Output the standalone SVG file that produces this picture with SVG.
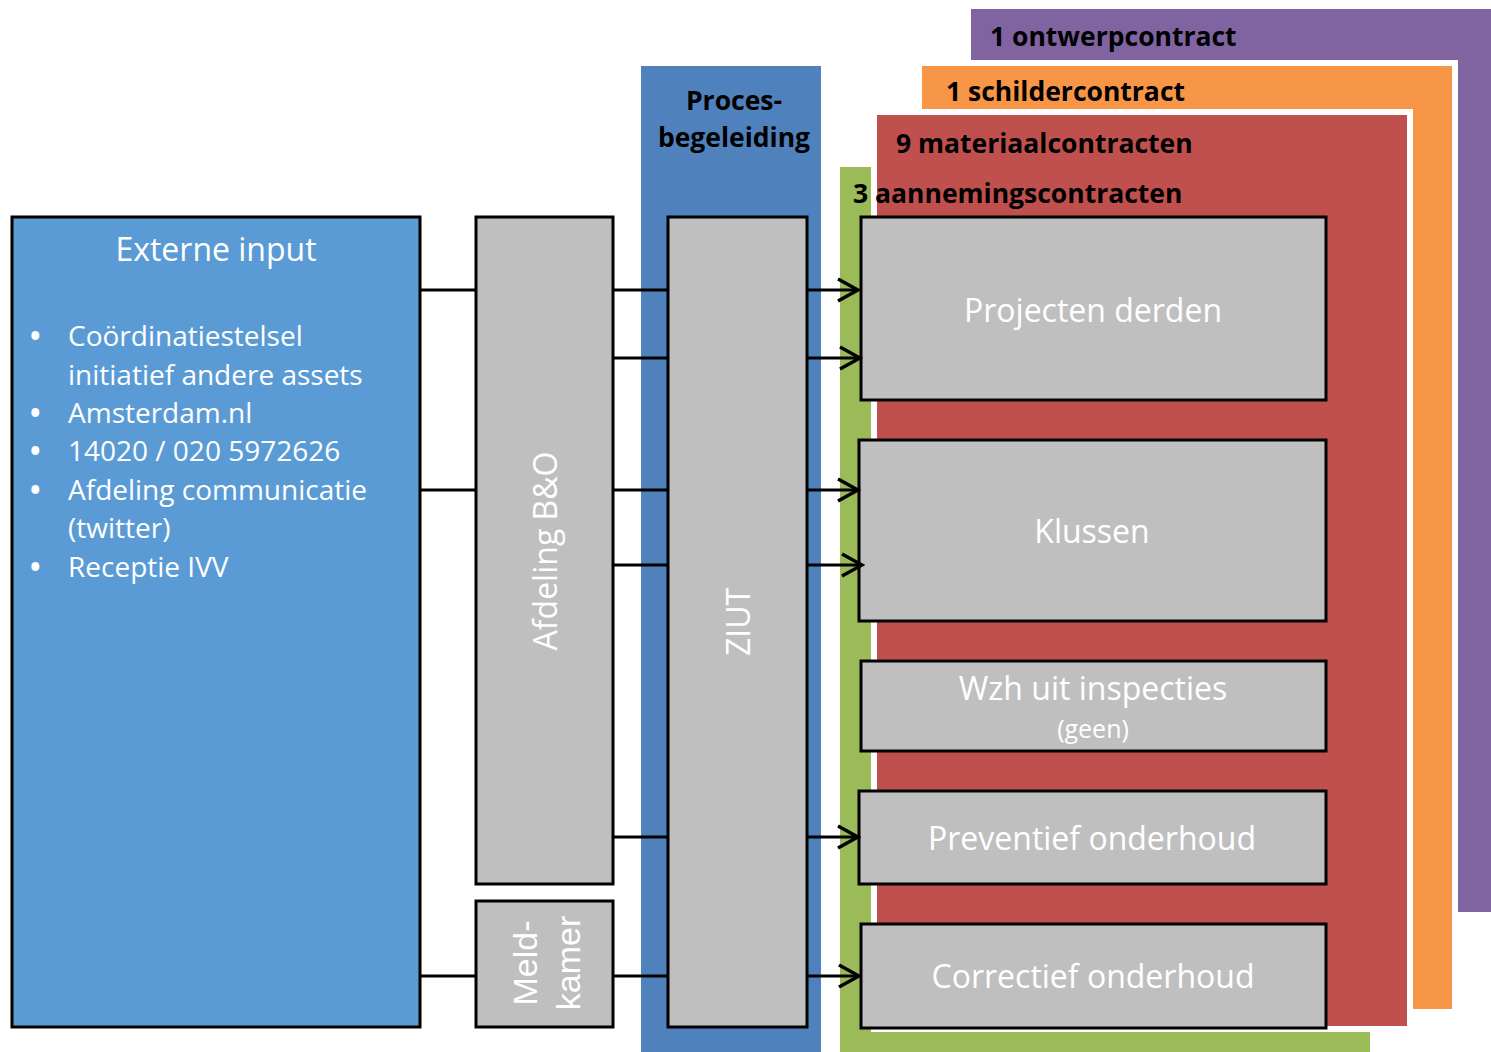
<svg xmlns="http://www.w3.org/2000/svg" width="1491" height="1052" viewBox="0 0 1491 1052">
<defs>
<style>
.box{fill:#BFBFBF;stroke:#000;stroke-width:3}
.lbl{font-family:"Open Sans",sans-serif;fill:#fff;font-size:32px;text-anchor:middle}
.bul{font-family:"Open Sans",sans-serif;fill:#fff;font-size:28px}
.dot{font-weight:bold}
.hd{font-family:"Open Sans",sans-serif;fill:#000;font-size:26.5px;font-weight:bold}
.ln{stroke:#000;stroke-width:3;fill:none}
</style>
<marker id="arr" markerUnits="userSpaceOnUse" markerWidth="26" markerHeight="28" viewBox="-23 -14 26 28" refX="0" refY="0" orient="auto">
<path d="M-20,-11 L0,0 L-20,11" fill="none" stroke="#000" stroke-width="3.5"/>
</marker>
</defs>
<rect width="1491" height="1052" fill="#fff"/>

<g id="layer-ontwerp">
<rect x="971" y="9" width="520" height="903" fill="#8064A2"/>
</g>
<g id="layer-schilder">
<rect x="919" y="63" width="536" height="949" fill="#F79646" stroke="#fff" stroke-width="6"/>
</g>
<g id="layer-aanneming">
<rect x="840" y="167" width="530" height="885" fill="#9BBB59"/>
</g>
<g id="layer-materiaal">
<rect x="874" y="112" width="536" height="917" fill="#C0504D" stroke="#fff" stroke-width="6"/>
</g>
<g id="layer-labels">
<text class="hd" x="990" y="46">1 ontwerpcontract</text>
<text class="hd" x="946" y="101">1 schildercontract</text>
<text class="hd" x="896" y="153">9 materiaalcontracten</text>
<text class="hd" x="853" y="203">3 aannemingscontracten</text>
</g>

<g id="procesbegeleiding">
<rect x="641" y="66" width="180" height="986" fill="#4F81BD"/>
<text class="hd" x="734" y="110" text-anchor="middle">Proces-</text>
<text class="hd" x="734" y="147" text-anchor="middle">begeleiding</text>
</g>

<g id="externe-input">
<rect x="12" y="217" width="408" height="810" fill="#5B9BD5" stroke="#000" stroke-width="3"/>
<text class="lbl" x="216" y="261">Externe input</text>
<g class="bul">
<text class="dot" x="30" y="346">•</text><text x="68" y="346">Coördinatiestelsel</text>
<text x="68" y="385">initiatief andere assets</text>
<text class="dot" x="30" y="423">•</text><text x="68" y="423">Amsterdam.nl</text>
<text class="dot" x="30" y="461">•</text><text x="68" y="461">14020 / 020 5972626</text>
<text class="dot" x="30" y="500">•</text><text x="68" y="500">Afdeling communicatie</text>
<text x="68" y="538">(twitter)</text>
<text class="dot" x="30" y="577">•</text><text x="68" y="577">Receptie IVV</text>
</g>
</g>

<g id="afdeling-bo">
<rect class="box" x="476" y="217" width="137" height="667"/>
<text class="lbl" transform="translate(557,551) rotate(-90)">Afdeling B&amp;O</text>
</g>

<g id="meldkamer">
<rect class="box" x="476" y="901" width="137" height="126"/>
<text transform="translate(537,963) rotate(-90)" font-family="Liberation Sans, Arial, sans-serif" font-size="34" fill="#fff" text-anchor="middle">Meld-</text>
<text transform="translate(580,963) rotate(-90)" font-family="Liberation Sans, Arial, sans-serif" font-size="34" fill="#fff" text-anchor="middle">kamer</text>
</g>

<g id="ziut">
<rect class="box" x="668" y="217" width="139" height="810"/>
<text class="lbl" transform="translate(750,622) rotate(-90)">ZIUT</text>
</g>

<g id="projecten-derden">
<rect class="box" x="861" y="217" width="465" height="183"/>
<text class="lbl" x="1093" y="322">Projecten derden</text>
</g>
<g id="klussen">
<rect class="box" x="859" y="440" width="467" height="181"/>
<text class="lbl" x="1092" y="543">Klussen</text>
</g>
<g id="wzh-uit-inspecties">
<rect class="box" x="861" y="661" width="465" height="90"/>
<text class="lbl" x="1093" y="700">Wzh uit inspecties</text>
<text class="lbl" x="1093" y="738" style="font-size:25px">(geen)</text>
</g>
<g id="preventief-onderhoud">
<rect class="box" x="859" y="791" width="467" height="93"/>
<text class="lbl" x="1092" y="850">Preventief onderhoud</text>
</g>
<g id="correctief-onderhoud">
<rect class="box" x="861" y="924" width="465" height="104"/>
<text class="lbl" x="1093" y="988">Correctief onderhoud</text>
</g>

<g id="connectors">
<line class="ln" x1="421" y1="290" x2="476" y2="290"/>
<line class="ln" x1="421" y1="490" x2="476" y2="490"/>
<line class="ln" x1="421" y1="976" x2="476" y2="976"/>
<line class="ln" x1="613" y1="290" x2="668" y2="290"/>
<line class="ln" x1="613" y1="358" x2="668" y2="358"/>
<line class="ln" x1="613" y1="490" x2="668" y2="490"/>
<line class="ln" x1="613" y1="565" x2="668" y2="565"/>
<line class="ln" x1="613" y1="837" x2="668" y2="837"/>
<line class="ln" x1="613" y1="976" x2="668" y2="976"/>
<line class="ln" x1="807" y1="290" x2="858" y2="290" marker-end="url(#arr)"/>
<line class="ln" x1="807" y1="358" x2="860" y2="358" marker-end="url(#arr)"/>
<line class="ln" x1="807" y1="490" x2="858" y2="490" marker-end="url(#arr)"/>
<line class="ln" x1="807" y1="565" x2="862" y2="565" marker-end="url(#arr)"/>
<line class="ln" x1="807" y1="837" x2="858" y2="837" marker-end="url(#arr)"/>
<line class="ln" x1="807" y1="976" x2="859" y2="976" marker-end="url(#arr)"/>
</g>
</svg>
